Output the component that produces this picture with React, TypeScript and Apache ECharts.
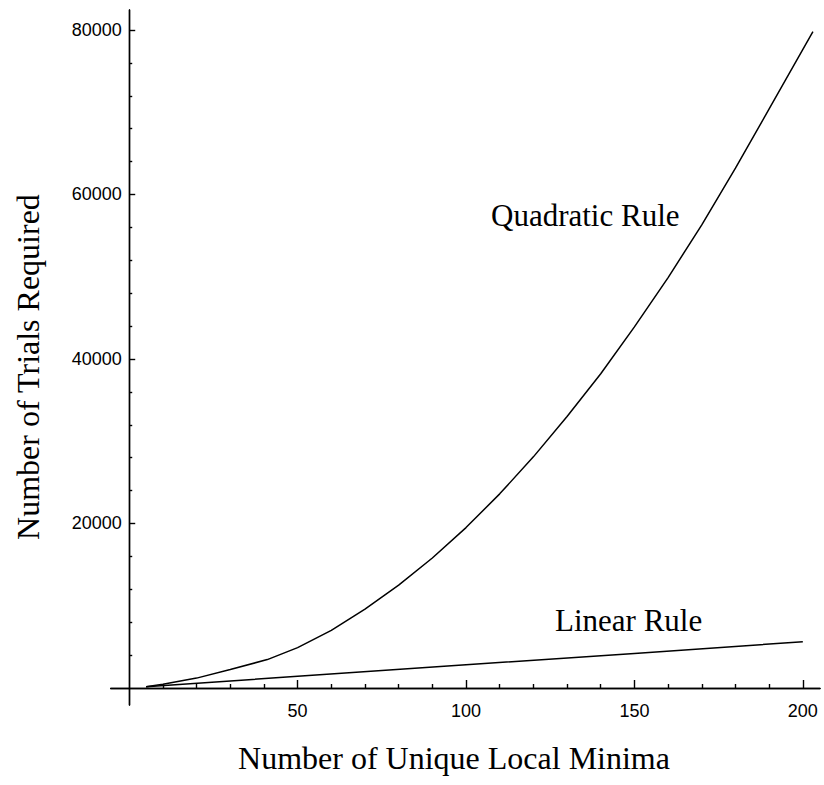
import React, { useEffect, useRef } from "react";
import * as echarts from "echarts";

// Data
const quadX = [5, 10, 20, 30, 41, 50, 60, 70, 80, 90, 100, 110, 120, 130, 140, 150, 160, 170, 180, 190, 203];
const quadY = [150, 450, 1200, 2250, 3450, 4900, 7000, 9600, 12500, 15800, 19500, 23600, 28100, 33000, 38200, 43900, 49900, 56300, 63200, 70400, 79800];
const linX = [5, 50, 100, 150, 200];
const linY = [140, 1420, 2820, 4200, 5630];

const xMajorTicks = [50, 100, 150, 200];
const xMinorTicks = [10, 20, 30, 40, 60, 70, 80, 90, 110, 120, 130, 140, 160, 170, 180, 190];
const yMajorTicks = [20000, 40000, 60000, 80000];
const yMinorTicks = [4000, 8000, 12000, 16000, 24000, 28000, 32000, 36000, 44000, 48000, 52000, 56000, 64000, 68000, 72000, 76000];

const xTitle = "Number of Unique Local Minima";
const yTitle = "Number of Trials Required";
const quadLabel = "Quadratic Rule";
const linLabel = "Linear Rule";

const SERIF = '"Liberation Serif", "Times New Roman", serif';
const SANS = '"Liberation Sans", Arial, sans-serif';

export default function App() {
  const ref = useRef<HTMLDivElement>(null);
  useEffect(() => {
    if (!ref.current) return;
    const chart = echarts.init(ref.current, null, { renderer: "svg" });
    const line = { color: "#000", width: 1.4 };
    const xRange = { min: -5.5, max: 205.1 };
    const yRange = { min: -2070, max: 82430 };
    const plain = (v: number) => String(v);
    chart.setOption({
      animation: false,
      backgroundColor: "#fff",
      grid: { left: 110.7, right: 4, top: 10, bottom: 80, containLabel: false, outerBoundsMode: "none" },
      xAxis: [
        {
          type: "value", ...xRange, position: "bottom",
          axisLine: { onZero: true, onZeroAxisIndex: 0, lineStyle: line },
          axisTick: { show: true, inside: true, length: 8, customValues: xMajorTicks, lineStyle: line },
          axisLabel: { customValues: xMajorTicks, formatter: plain, margin: -3, fontFamily: SANS, fontSize: 18, color: "#000" },
          splitLine: { show: false },
        },
        {
          type: "value", ...xRange, position: "bottom",
          axisLine: { onZero: true, onZeroAxisIndex: 0, lineStyle: line },
          axisTick: { show: true, inside: true, length: 4, customValues: xMinorTicks, lineStyle: line },
          axisLabel: { show: false },
          splitLine: { show: false },
        },
      ],
      yAxis: [
        {
          type: "value", ...yRange, position: "left",
          axisLine: { onZero: true, onZeroAxisIndex: 0, lineStyle: line },
          axisTick: { show: true, inside: true, length: 6, customValues: yMajorTicks, lineStyle: line },
          axisLabel: { customValues: yMajorTicks, formatter: plain, margin: -11, fontFamily: SANS, fontSize: 18, color: "#000" },
          splitLine: { show: false },
        },
        {
          type: "value", ...yRange, position: "left",
          axisLine: { onZero: true, onZeroAxisIndex: 0, lineStyle: line },
          axisTick: { show: true, inside: true, length: 3, customValues: yMinorTicks, lineStyle: line },
          axisLabel: { show: false },
          splitLine: { show: false },
        },
      ],
      series: [
        {
          type: "line", name: quadLabel, xAxisIndex: 0, yAxisIndex: 0,
          data: quadX.map((x, i) => [x, quadY[i]]),
          showSymbol: false, symbol: "none",
          lineStyle: { color: "#000", width: 1.5 },
        },
        {
          type: "line", name: linLabel, xAxisIndex: 0, yAxisIndex: 0,
          data: linX.map((x, i) => [x, linY[i]]),
          showSymbol: false, symbol: "none",
          lineStyle: { color: "#000", width: 1.5 },
        },
      ],
      graphic: [
        { type: "text", x: 454, y: 758, style: { text: xTitle, fontFamily: SERIF, fontSize: 32, fill: "#000", align: "center", verticalAlign: "middle" } },
        { type: "text", x: 28, y: 367, rotation: Math.PI / 2, style: { text: yTitle, fontFamily: SERIF, fontSize: 32, fill: "#000", align: "center", verticalAlign: "middle" } },
        { type: "text", x: 491, y: 215, style: { text: quadLabel, fontFamily: SERIF, fontSize: 31, fill: "#000", align: "left", verticalAlign: "middle" } },
        { type: "text", x: 555, y: 620, style: { text: linLabel, fontFamily: SERIF, fontSize: 31, fill: "#000", align: "left", verticalAlign: "middle" } },
      ],
    });
    return () => chart.dispose();
  }, []);
  return <div ref={ref} style={{ position: "fixed", left: 0, top: 0, width: 824, height: 785 }} />;
}
